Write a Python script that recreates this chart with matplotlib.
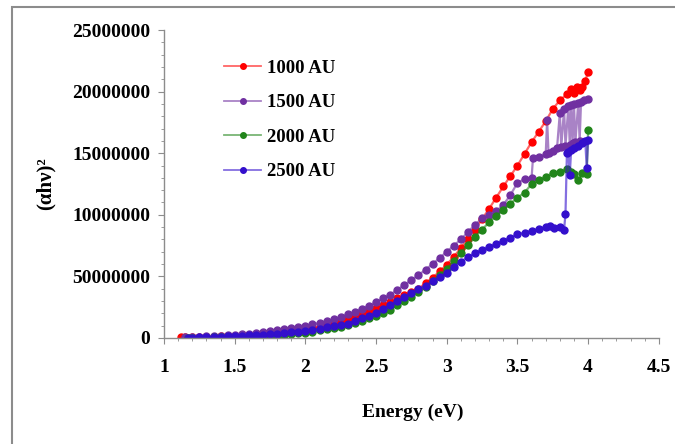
import matplotlib
matplotlib.use("Agg")
import matplotlib.pyplot as plt
from matplotlib.patches import Rectangle
from matplotlib.ticker import MultipleLocator

plt.rcParams['font.family'] = ['Liberation Serif', 'DejaVu Serif']
plt.rcParams['font.weight'] = 'bold'

# donnees (valeurs en millions)
e_1000 = [1.12, 1.15, 1.20, 1.25, 1.30, 1.35, 1.40, 1.45, 1.50, 1.55, 1.60, 1.65, 1.70, 1.75, 1.80,
          1.85, 1.90, 1.95, 2.00, 2.05, 2.10, 2.15, 2.20, 2.25, 2.30, 2.35, 2.40, 2.45, 2.50, 2.55,
          2.60, 2.65, 2.70, 2.75, 2.80, 2.85, 2.90, 2.95, 3.00, 3.05, 3.10, 3.15, 3.20, 3.25, 3.30,
          3.35, 3.40, 3.45, 3.50, 3.55, 3.60, 3.65, 3.70, 3.75, 3.80, 3.85, 3.88, 3.90, 3.92, 3.94,
          3.96, 3.98, 4.00]
v_1000 = [0.05, 0.06, 0.07, 0.08, 0.10, 0.11, 0.13, 0.15, 0.17, 0.19, 0.22, 0.26, 0.30, 0.35, 0.40,
          0.46, 0.52, 0.60, 0.70, 0.80, 0.90, 1.02, 1.15, 1.35, 1.55, 1.77, 2.00, 2.22, 2.45, 2.70,
          2.95, 3.20, 3.45, 3.72, 4.00, 4.45, 4.90, 5.40, 5.95, 6.60, 7.30, 8.05, 8.80, 9.65, 10.50,
          11.40, 12.30, 13.15, 14.00, 14.95, 15.90, 16.75, 17.60, 18.60, 19.30, 19.80, 20.20, 19.90, 20.40, 20.10,
          20.40, 20.90, 21.60]

e_1500 = [1.15, 1.20, 1.25, 1.30, 1.35, 1.40, 1.45, 1.50, 1.55, 1.60, 1.65, 1.70, 1.75, 1.80, 1.85,
          1.90, 1.95, 2.00, 2.05, 2.10, 2.15, 2.20, 2.25, 2.30, 2.35, 2.40, 2.45, 2.50, 2.55, 2.60,
          2.65, 2.70, 2.75, 2.80, 2.85, 2.90, 2.95, 3.00, 3.05, 3.10, 3.15, 3.20, 3.25, 3.30, 3.35,
          3.40, 3.45, 3.50, 3.55, 3.60, 3.61, 3.65, 3.70, 3.71, 3.72, 3.75, 3.78, 3.80, 3.81, 3.83,
          3.84, 3.86, 3.87, 3.88, 3.89, 3.90, 3.91, 3.93, 3.94, 3.95, 3.97, 4.00]
v_1500 = [0.05, 0.07, 0.09, 0.12, 0.15, 0.18, 0.21, 0.25, 0.30, 0.35, 0.41, 0.47, 0.54, 0.62, 0.71,
          0.80, 0.90, 1.00, 1.10, 1.20, 1.35, 1.50, 1.70, 1.90, 2.12, 2.35, 2.62, 2.90, 3.20, 3.50,
          3.90, 4.30, 4.70, 5.10, 5.55, 6.00, 6.50, 7.00, 7.50, 8.00, 8.60, 9.20, 9.70, 10.00, 10.30,
          10.80, 11.60, 12.60, 12.90, 13.00, 14.60, 14.70, 14.90, 17.70, 15.00, 15.20, 15.40, 18.30, 15.50, 18.60,
          15.60, 18.80, 15.70, 18.90, 15.80, 19.00, 15.90, 19.10, 16.00, 19.20, 19.30, 19.40]

e_2000 = [1.17, 1.20, 1.25, 1.30, 1.35, 1.40, 1.45, 1.50, 1.55, 1.60, 1.65, 1.70, 1.75, 1.80, 1.85,
          1.90, 1.95, 2.00, 2.05, 2.10, 2.15, 2.20, 2.25, 2.30, 2.35, 2.40, 2.45, 2.50, 2.55, 2.60,
          2.65, 2.70, 2.75, 2.80, 2.85, 2.90, 2.95, 3.00, 3.05, 3.10, 3.15, 3.20, 3.25, 3.30, 3.35,
          3.40, 3.45, 3.50, 3.55, 3.60, 3.65, 3.70, 3.75, 3.80, 3.85, 3.88, 3.90, 3.93, 3.96, 3.99,
          4.00]
v_2000 = [0.02, 0.02, 0.03, 0.03, 0.04, 0.05, 0.06, 0.07, 0.08, 0.10, 0.12, 0.15, 0.18, 0.22, 0.27,
          0.32, 0.37, 0.42, 0.50, 0.60, 0.70, 0.80, 0.92, 1.05, 1.22, 1.40, 1.58, 1.75, 2.00, 2.30,
          2.65, 3.00, 3.35, 3.70, 4.15, 4.60, 5.10, 5.60, 6.25, 6.90, 7.55, 8.20, 8.80, 9.40, 9.90,
          10.40, 10.90, 11.40, 11.80, 12.50, 12.80, 13.10, 13.40, 13.50, 13.70, 13.50, 13.30, 12.80, 13.40, 13.30,
          16.90]

e_2500 = [1.17, 1.20, 1.25, 1.30, 1.35, 1.40, 1.45, 1.50, 1.55, 1.60, 1.65, 1.70, 1.75, 1.80, 1.85,
          1.90, 1.95, 2.00, 2.05, 2.10, 2.15, 2.20, 2.25, 2.30, 2.35, 2.40, 2.45, 2.50, 2.55, 2.60,
          2.65, 2.70, 2.75, 2.80, 2.85, 2.90, 2.95, 3.00, 3.05, 3.10, 3.15, 3.20, 3.25, 3.30, 3.35,
          3.40, 3.45, 3.50, 3.55, 3.60, 3.65, 3.70, 3.73, 3.76, 3.80, 3.83, 3.84, 3.85, 3.86, 3.87,
          3.88, 3.90, 3.93, 3.96, 3.98, 3.99, 4.00]
v_2500 = [0.02, 0.03, 0.04, 0.06, 0.08, 0.10, 0.12, 0.14, 0.17, 0.20, 0.23, 0.27, 0.31, 0.35, 0.40,
          0.45, 0.50, 0.56, 0.65, 0.75, 0.85, 0.95, 1.05, 1.15, 1.35, 1.60, 1.80, 2.00, 2.35, 2.70,
          3.00, 3.30, 3.62, 3.95, 4.25, 4.60, 4.95, 5.30, 5.75, 6.20, 6.55, 6.90, 7.15, 7.40, 7.65,
          7.90, 8.15, 8.40, 8.55, 8.70, 8.85, 9.00, 9.10, 8.90, 9.00, 8.80, 10.10, 15.00, 15.10, 13.20,
          15.30, 15.40, 15.60, 15.80, 16.00, 13.80, 16.10]

series = [("1000 AU", e_1000, v_1000, (1.0, 0.0, 0.0)),
          ("1500 AU", e_1500, v_1500, (0.44, 0.19, 0.63)),
          ("2000 AU", e_2000, v_2000, (0.13, 0.52, 0.10)),
          ("2500 AU", e_2500, v_2500, (0.20, 0.06, 0.80))]

yticks = [0, 5000000, 10000000, 15000000, 20000000, 25000000]
ylabels = ["0", "50000000", "10000000", "15000000", "20000000", "25000000"]
xticks = [1, 1.5, 2, 2.5, 3, 3.5, 4, 4.5]

fig = plt.figure(figsize=(6.75, 4.44), dpi=100)
ax = fig.add_axes([0.243, 0.239, 0.733, 0.693])

for nom, e, v, c in series:
    ax.plot(e, [x * 1e6 for x in v], color=c + (0.6,), lw=1.6, marker="o", ms=5.0,
            mfc=c, mec=c, label=nom)

ax.set_xlim(1, 4.5)
ax.set_ylim(0, 25000000)
ax.set_xticks(xticks)
ax.set_xticklabels([("%g" % t) for t in xticks])
ax.xaxis.set_minor_locator(MultipleLocator(0.1))
ax.set_yticks(yticks)
ax.set_yticklabels(ylabels)
ax.yaxis.set_minor_locator(MultipleLocator(1000000))

for s in ["top", "right"]:
    ax.spines[s].set_visible(False)
for s in ["left", "bottom"]:
    ax.spines[s].set_color("#8c8c8c")
    ax.spines[s].set_linewidth(1.0)
ax.tick_params(which="major", length=4, color="#8c8c8c", labelsize=14)
ax.tick_params(which="minor", length=2.5, color="#8c8c8c")
ax.tick_params(axis="x", which="major", pad=11)
ax.tick_params(axis="y", which="major", pad=6)

ax.set_xlabel("Energy (eV)", fontsize=14, fontweight="bold")
ax.set_ylabel("(αhν)²", fontsize=15, fontweight="bold")
ax.xaxis.set_label_coords(0.503, -0.215)
ax.yaxis.set_label_coords(-0.22, 0.5)

leg = ax.legend(loc="upper left", bbox_to_anchor=(0.121, 0.905), frameon=False,
                fontsize=13.5, handlelength=2.0, handletextpad=0.3, labelspacing=0.93,
                borderpad=0, borderaxespad=0)
for h in leg.get_lines():
    h.set_linewidth(1.3)
    h.set_markersize(4)

# cadre gris exterieur
fig.patches.append(Rectangle((0.0178, -0.05), 1.0, 1.034, transform=fig.transFigure,
                             fill=False, edgecolor="#8c8c8c", lw=1.5))

fig.savefig("out.png", dpi=100)
